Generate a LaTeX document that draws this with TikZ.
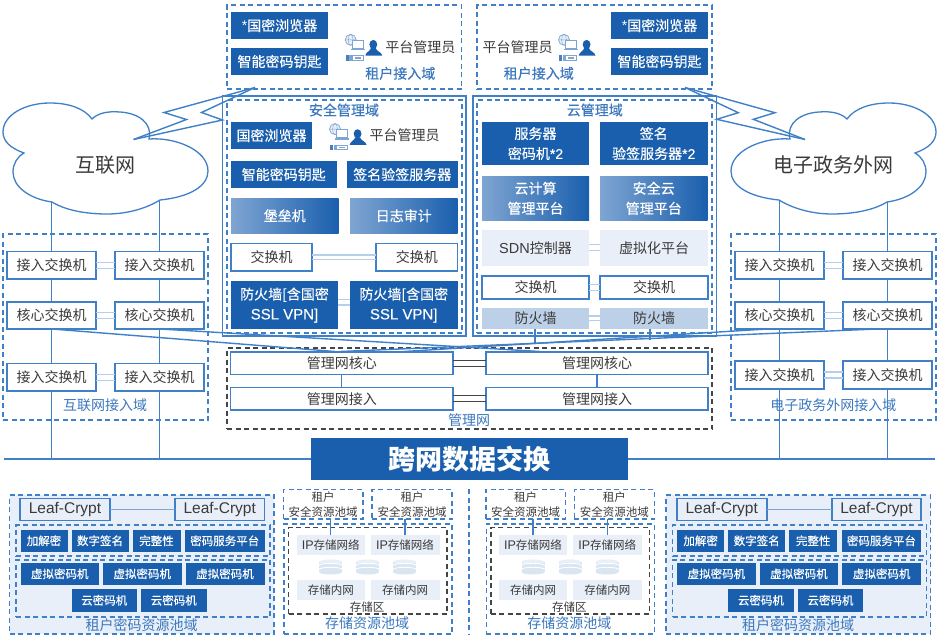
\documentclass[tikz,border=0pt]{standalone}
\usepackage{fontspec}
\setmainfont{Noto Sans CJK SC}
\newfontfamily\lat{Liberation Sans}
\newfontfamily\midw[FakeBold=0.25]{Noto Sans CJK SC}
\newfontfamily\latmid[FakeBold=0.15]{Liberation Sans}
\definecolor{deep}{HTML}{1A5FAD}
\definecolor{wire}{HTML}{3F80C8}
\definecolor{pale}{HTML}{E8EFF8}
\definecolor{mist}{HTML}{BCD0E8}
\definecolor{faint}{HTML}{B4CEEC}
\definecolor{gradl}{HTML}{7FA5D2}
\definecolor{ink}{HTML}{3A3A3A}
\definecolor{slate}{HTML}{454545}
\definecolor{label}{HTML}{3B78BE}
\tikzset{
  every node/.style={inner sep=0pt,outer sep=0pt,text=ink},
  wirel/.style={draw=wire,line width=1.4pt},
  busl/.style={draw=wire,line width=2.2pt},
  cloudshape/.style={draw=wire,line width=1.3pt,fill=white},
  solidbox/.style={fill=deep,text=white,align=center,font=\fontsize{14}{20}\selectfont\midw},
  gradbox/.style={left color=gradl,right color=deep,text=white,align=center,font=\fontsize{14}{20}\selectfont\midw},
  whitebox/.style={draw=wire,line width=1.4pt,fill=white,font=\fontsize{14}{18}\selectfont},
  palebox/.style={fill=pale,font=\fontsize{14}{18}\selectfont},
  mistbox/.style={fill=mist,font=\fontsize{14}{18}\selectfont},
  smallsolid/.style={fill=deep,text=white,font=\fontsize{11.5}{14}\selectfont\midw},
  smallpale/.style={fill=pale,font=\fontsize{11.5}{14}\selectfont},
  leafbox/.style={draw=wire,line width=1.6pt,fill=pale,font=\fontsize{15.5}{18}\selectfont\lat},
  zonedash/.style={draw=wire,line width=1.5pt,dash pattern=on 5pt off 3.5pt},
  darkdash/.style={draw=slate,line width=1.5pt,dash pattern=on 5pt off 3.5pt},
  poolfill/.style={zonedash,fill=pale},
  title/.style={text=label,font=\fontsize{14}{18}\selectfont\midw},
  plainlabel/.style={text=label,font=\fontsize{14}{18}\selectfont},
  tenantlabel/.style={align=center,font=\fontsize{11.5}{15}\selectfont},
  lightpair/.style={draw=faint,line width=1.4pt},
  darkpair/.style={draw=slate,line width=1.3pt},
}
% box given by its corners
\newcommand{\bx}[7]{%
  \pgfmathsetmacro{\bw}{#5-#3}\pgfmathsetmacro{\bh}{#6-#4}%
  \pgfmathsetmacro{\cx}{(#3+#5)/2}\pgfmathsetmacro{\cy}{(#4+#6)/2}%
  \node[#1,minimum width=\bw pt,minimum height=\bh pt] (#2) at (\cx,\cy) {#7};}
% pair of parallel links between two side-by-side boxes
\newcommand{\dbl}[5]{%
  \draw[#1] ([yshift=#4+#5]#2.east) -- ([yshift=#4+#5]#2.east -| #3.west);
  \draw[#1] ([yshift=#4-#5]#2.east) -- ([yshift=#4-#5]#2.east -| #3.west);}
\newcommand{\cloudoutline}{(24,153) .. controls (10,148) and (3,141) .. (3,132)
  .. controls (3,115) and (25,103) .. (50,103) .. controls (68,103) and (84,108) .. (92,119)
  .. controls (98,113) and (108,111) .. (120,112) .. controls (138,113) and (153,123) .. (149,139)
  .. controls (175,137) and (208,150) .. (208,171) .. controls (208,186) and (190,197) .. (160,200)
  .. controls (147,208) and (128,214) .. (107,214) .. controls (85,214) and (65,210) .. (52,202)
  .. controls (30,199) and (13,187) .. (13,172) .. controls (13,164) and (17,157) .. (24,153) -- cycle}
% administrator glyph: globe, laptop, key and person
\newcommand{\adminicon}[2]{%
  \begin{scope}[shift={(#1,#2)}]
    \draw[draw=gradl,fill=pale,line width=.7pt] (5.7,6.8) circle (5.5);
    \draw[draw=gradl,line width=.4pt] (5.7,6.8) ellipse (2.4 and 5.5) (0.2,6.8) -- (11.2,6.8);
    \draw[draw=gradl,fill=white,line width=.8pt] (7.5,7.2) rectangle (18,15);
    \fill[gradl] (5.5,15.8) rectangle (20,17.2);
    \fill[deep!80] (.7,22.2) rectangle (3.6,27.8);
    \fill[gradl] (4.4,22.2) rectangle (7,27.8);
    \draw[draw=gradl,fill=white,line width=.8pt] (7,22.6) rectangle (18.3,27.4);
    \fill[gradl] (10,24.3) rectangle (16,25.7);
    \fill[deep] (28.3,11.5) ellipse (3.9 and 4.6);
    \fill[deep] (20.4,22.6) .. controls (20.8,19) and (25,18.5) .. (26,15) -- (30.6,15)
      .. controls (31.6,18.5) and (36.6,19) .. (37.2,22.6) -- cycle;
  \end{scope}}
% stacked storage disk
\newcommand{\diskstack}[2]{%
  \begin{scope}[shift={(#1,#2)}]
    \fill[mist!55] (-11.5,2.5) rectangle (11.5,12.5);
    \fill[mist!55] (0,12.5) ellipse (11.5 and 2.5);
    \fill[pale] (0,2.5) ellipse (11.5 and 2.5);
    \draw[white,line width=.8pt] (-11.5,6) arc[start angle=180,end angle=360,x radius=11.5,y radius=2.2];
    \draw[white,line width=.8pt] (-11.5,10) arc[start angle=180,end angle=360,x radius=11.5,y radius=2.2];
  \end{scope}}
% tenant cipher resource pool, placed at horizontal offset #1
\newcommand{\cipherpool}[2]{%
  \begin{scope}[shift={(#1,0)}]
    \bx{poolfill}{#2pool}{9.5}{495}{274}{634}{}
    \bx{zonedash}{#2upper}{16}{525}{270}{556}{}
    \bx{zonedash}{#2lower}{16}{560}{270}{617}{}
    \bx{leafbox}{#2leafa}{20}{498.5}{110}{520.5}{Leaf-Crypt}
    \bx{leafbox}{#2leafb}{175}{498.5}{264.5}{520.5}{Leaf-Crypt}
    \draw[wirel,draw=gradl] (#2leafa) -- (#2leafb);
    \bx{smallsolid}{#2c1}{20.5}{529.5}{67.5}{552}{加解密}
    \bx{smallsolid}{#2c2}{71.5}{529.5}{128.5}{552}{数字签名}
    \bx{smallsolid}{#2c3}{132.5}{529.5}{180.5}{552}{完整性}
    \bx{smallsolid}{#2c4}{185}{529.5}{264.5}{552}{密码服务平台}
    \bx{smallsolid}{#2v1}{20.5}{562.5}{99}{585}{虚拟密码机}
    \bx{smallsolid}{#2v2}{103}{562.5}{181.5}{585}{虚拟密码机}
    \bx{smallsolid}{#2v3}{185.5}{562.5}{264.5}{585}{虚拟密码机}
    \bx{smallsolid}{#2y1}{71.5}{589}{137}{611.5}{云密码机}
    \bx{smallsolid}{#2y2}{141}{589}{206.5}{611.5}{云密码机}
    \node[plainlabel] (#2cap) at (141.5,625) {租户密码资源池域};
  \end{scope}}
% storage resource pool, placed at horizontal offset #1
\newcommand{\storepool}[2]{%
  \begin{scope}[shift={(#1,0)}]
    \bx{zonedash}{#2outer}{284}{524}{452}{634}{}
    \bx{darkdash}{#2inner}{288.5}{527.5}{447}{614}{}
    \bx{zonedash}{#2ta}{283.5}{489.5}{363}{519}{}
    \bx{zonedash}{#2tb}{372}{489.5}{452}{519}{}
    \node[tenantlabel] at (323.2,504.5) {租户\\安全资源池域};
    \node[tenantlabel] at (412,504.5) {租户\\安全资源池域};
    \bx{smallpale}{#2ipa}{296.5}{535}{365}{555}{{\lat\fontsize{12.5}{14}\selectfont IP}存储网络}
    \bx{smallpale}{#2ipb}{370.5}{535}{439.5}{555}{{\lat\fontsize{12.5}{14}\selectfont IP}存储网络}
    \bx{smallpale}{#2na}{296.5}{580}{365}{599.5}{存储内网}
    \bx{smallpale}{#2nb}{370.5}{580}{439.5}{599.5}{存储内网}
    \diskstack{330.7}{559.5}
    \diskstack{367.7}{559.5}
    \diskstack{404.7}{559.5}
    \draw[wirel] (#2ipa.north) -- (#2ipa.north |- #2ta.south);
    \draw[wirel] (#2ipb.north) -- (#2ipb.north |- #2tb.south);
    \node[font=\fontsize{11.5}{14}\selectfont] at (367,607) {存储区};
    \node[plainlabel] at (367,623.5) {存储资源池域};
  \end{scope}}

\begin{document}
\begin{tikzpicture}[x=1pt,y=-1pt]
  \fill[white] (0,0) rectangle (945,643);
  \useasboundingbox (0,0) rectangle (945,643);

  % clouds
  \draw[cloudshape] \cloudoutline;
  \begin{scope}[xshift=939pt,xscale=-1]
    \draw[cloudshape] \cloudoutline;
  \end{scope}
  \node[font=\fontsize{20}{24}\selectfont] (inet) at (105,165) {互联网};
  \node[font=\fontsize{20}{24}\selectfont] (gov) at (833.3,165) {电子政务外网};

  % tenant access zones
  \bx{zonedash}{tenl}{227}{5}{461.5}{89}{}
  \bx{zonedash}{tenr}{477}{5}{712}{89}{}
  \bx{solidbox}{tl1}{231}{12}{328}{39}{{\lat *}国密浏览器}
  \bx{solidbox}{tl2}{231}{48}{328}{75}{智能密码钥匙}
  \bx{solidbox}{tr1}{611}{12}{708}{39}{{\lat *}国密浏览器}
  \bx{solidbox}{tr2}{611}{48}{708}{75}{智能密码钥匙}
  \adminicon{345}{33}
  \adminicon{558.3}{33}
  \node[font=\fontsize{14}{16}\selectfont] at (420.3,46.7) {平台管理员};
  \node[font=\fontsize{14}{16}\selectfont] at (517.5,46.7) {平台管理员};
  \node[title] at (400.3,73.3) {租户接入域};
  \node[title] at (538.8,73.3) {租户接入域};

  % security management zone
  \bx{draw=wire,line width=1.3pt}{secout}{222.5}{96}{466}{336}{}
  \bx{zonedash}{secin}{227}{100}{462}{333}{}
  \node[title] at (344,110) {安全管理域};
  \bx{solidbox}{s1}{231}{122}{312}{149}{国密浏览器}
  \adminicon{329.3}{122.3}
  \node[font=\fontsize{14}{16}\selectfont] at (404.5,135.5) {平台管理员};
  \bx{solidbox}{s2}{231}{161}{336.5}{188}{智能密码钥匙}
  \bx{solidbox}{s3}{347}{161}{457.5}{188}{签名验签服务器}
  \bx{gradbox}{s4}{231}{198}{338.5}{233.5}{堡垒机}
  \bx{gradbox}{s5}{350}{198}{457.5}{233.5}{日志审计}
  \bx{whitebox}{s6}{231}{243.5}{312}{271}{交换机}
  \bx{whitebox}{s7}{376}{243.5}{457.5}{271}{交换机}
  \bx{solidbox}{s8}{231}{281}{338}{329}{防火墙[含国密\\{\latmid\fontsize{15}{20}\selectfont SSL VPN]}}
  \bx{solidbox}{s9}{350}{281}{457.5}{329}{防火墙[含国密\\{\latmid\fontsize{15}{20}\selectfont SSL VPN]}}
  \dbl{lightpair}{s6}{s7}{0pt}{2.4pt}
  \dbl{lightpair}{s8}{s9}{2.8pt}{2.8pt}

  % cloud management zone
  \bx{draw=wire,line width=1.3pt}{cldout}{473}{96}{716.5}{336}{}
  \bx{zonedash}{cldin}{477}{100}{712}{333}{}
  \node[title] at (594.8,110) {云管理域};
  \bx{solidbox}{c1}{482}{122}{589}{165}{服务器\\密码机{\latmid *2}}
  \bx{solidbox}{c2}{600}{122}{707.5}{165}{签名\\验签服务器{\latmid *2}}
  \bx{gradbox}{c3}{482}{176.5}{589}{220}{云计算\\管理平台}
  \bx{gradbox}{c4}{600}{176.5}{707.5}{220}{安全云\\管理平台}
  \bx{palebox}{c5}{482}{230}{589}{265.5}{{\lat\fontsize{14.5}{18}\selectfont SDN}控制器}
  \bx{palebox}{c6}{600}{230}{708}{265.5}{虚拟化平台}
  \bx{whitebox}{c7}{482}{276}{589}{299}{交换机}
  \bx{whitebox}{c8}{600}{276}{708}{299}{交换机}
  \bx{mistbox}{c9}{482}{307.5}{589}{329}{防火墙}
  \bx{mistbox}{c10}{600}{307.5}{708}{329}{防火墙}
  \dbl{lightpair}{c5}{c6}{0pt}{3pt}
  \dbl{lightpair}{c7}{c8}{0pt}{2.8pt}
  \dbl{lightpair}{c9}{c10}{0pt}{2.4pt}

  % management network
  \bx{darkdash}{mgr}{227}{348}{712}{429}{}
  \bx{whitebox}{m1}{230.5}{352}{453}{374.5}{管理网核心}
  \bx{whitebox}{m2}{486}{352}{708}{374.5}{管理网核心}
  \bx{whitebox}{m3}{230.5}{387.5}{453}{410}{管理网接入}
  \bx{whitebox}{m4}{486}{387.5}{708}{410}{管理网接入}
  \dbl{darkpair}{m1}{m2}{0pt}{3pt}
  \dbl{darkpair}{m3}{m4}{0pt}{3pt}
  \draw[wirel] (m1) -- (m3);
  \draw[wirel] (m2) -- (m4);
  \node[plainlabel] at (469,420) {管理网};

  % internet access zone
  \bx{zonedash}{inz}{3}{234}{208}{420}{}
  \bx{whitebox}{a1}{7}{251.5}{96}{279}{接入交换机}
  \bx{whitebox}{a2}{115}{251.5}{204}{279}{接入交换机}
  \bx{whitebox}{a3}{7}{302}{96}{329}{核心交换机}
  \bx{whitebox}{a4}{115}{302}{204}{329}{核心交换机}
  \bx{whitebox}{a5}{7}{363.5}{96}{391}{接入交换机}
  \bx{whitebox}{a6}{115}{363.5}{204}{391}{接入交换机}
  \dbl{lightpair}{a1}{a2}{0pt}{3pt}
  \dbl{lightpair}{a3}{a4}{0pt}{3pt}
  \dbl{lightpair}{a5}{a6}{0pt}{3pt}
  \node[plainlabel] at (105,405) {互联网接入域};

  % government extranet access zone
  \bx{zonedash}{gvz}{731}{234}{936}{420}{}
  \bx{whitebox}{b1}{735}{251.5}{824}{279}{接入交换机}
  \bx{whitebox}{b2}{843}{251.5}{932}{279}{接入交换机}
  \bx{whitebox}{b3}{735}{302}{824}{329}{核心交换机}
  \bx{whitebox}{b4}{843}{302}{932}{329}{核心交换机}
  \bx{whitebox}{b5}{735}{361}{824}{389}{接入交换机}
  \bx{whitebox}{b6}{843}{361}{932}{389}{接入交换机}
  \dbl{lightpair}{b1}{b2}{0pt}{3pt}
  \dbl{lightpair}{b3}{b4}{0pt}{3pt}
  \dbl{lightpair}{b5}{b6}{0pt}{3pt}
  \node[plainlabel] at (833.3,405.5) {电子政务外网接入域};

  % cross-network exchange bar and bus
  \bx{fill=deep,text=white,font=\fontsize{27}{30}\selectfont\bfseries}{bar}{311}{438}{628}{480}{跨网数据交换}
  \coordinate (busl) at (3.5,459);
  \coordinate (busr) at (935,459);
  \draw[busl] (busl) -- (bar.west);
  \draw[busl] (bar.east) -- (busr);

  % cloud feeders and switch chains
  \coordinate (inA) at (51.5,202);
  \coordinate (inB) at (159.5,200);
  \coordinate (gvA) at (779.5,200);
  \coordinate (gvB) at (887.5,202);
  \draw[wirel] (inA) -- (a1); \draw[wirel] (a1) -- (a3); \draw[wirel] (a3) -- (a5);
  \draw[wirel] (a5.south) -- (a5.south |- bar.west);
  \draw[wirel] (inB) -- (a2); \draw[wirel] (a2) -- (a4); \draw[wirel] (a4) -- (a6);
  \draw[wirel] (a6.south) -- (a6.south |- bar.west);
  \draw[wirel] (gvA) -- (b1); \draw[wirel] (b1) -- (b3); \draw[wirel] (b3) -- (b5);
  \draw[wirel] (b5.south) -- (b5.south |- bar.east);
  \draw[wirel] (gvB) -- (b2); \draw[wirel] (b2) -- (b4); \draw[wirel] (b4) -- (b6);
  \draw[wirel] (b6.south) -- (b6.south |- bar.east);

  % core uplinks towards the management network
  \coordinate (fa) at (535,343);
  \coordinate (fb) at (650,340);
  \coordinate (ma) at (335,351.5);
  \coordinate (mb) at (340,351.5);
  \coordinate (mc) at (404,351.5);
  \coordinate (md) at (540,351.5);
  \draw[wirel] (52,329) -- (ma);
  \draw[wirel] (160,329) -- (md);
  \draw[wirel] (767,329) -- (mc);
  \draw[wirel] (877,329) -- (mb);
  \draw[wirel] (c9.south -| fa) -- (fa);
  \draw[wirel] (c10.south -| fb) -- (fb);

  % radio links from the tenant zones to the clouds
  \coordinate (tipl) at (133.5,139.5);
  \coordinate (tipr) at (805,139.5);
  \coordinate (topl) at (255,87.5);
  \coordinate (topr) at (685,87.5);
  \draw[wirel,line join=miter] (tipl) -- (186.5,119.5) -- (164,112.5) -- (topl);
  \draw[wirel,line join=miter] (tipl) -- (222.5,120) -- (201.5,112.5) -- (topl);
  \draw[wirel,line join=miter] (tipr) -- (753.3,119.3) -- (775,112.7) -- (topr);
  \draw[wirel,line join=miter] (tipr) -- (716.7,119.3) -- (738.3,112.7) -- (topr);

  % bottom resource pools
  \cipherpool{0}{pa}
  \storepool{0}{qa}
  \storepool{202.3}{qb}
  \cipherpool{656.7}{pb}
  \coordinate (divt) at (469,489);
  \coordinate (divb) at (469,634);
  \draw[zonedash] (divt) -- (divb);
\end{tikzpicture}
\end{document}
